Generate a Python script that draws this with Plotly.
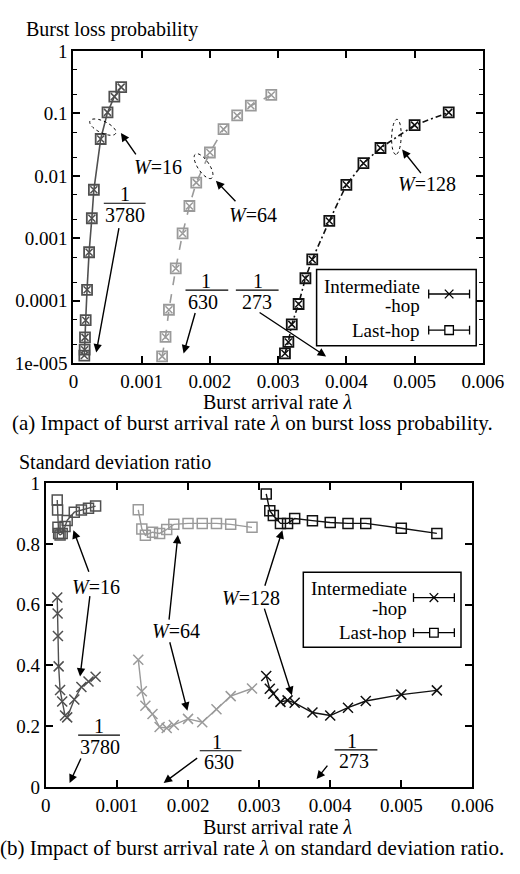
import math
import plotly.graph_objects as go

FIG_W = 520
FIG_H = 874
FONT = "Liberation Serif"

# ---- data -------------------------------------------------------------
# burst arrival rate (lambda) for each wavelength count W
lam_w16 = [0.00016, 0.000165, 0.00017, 0.00018, 0.0002, 0.00023, 0.00027, 0.0003, 0.0004, 0.0005, 0.0006, 0.0007]
lam_w64 = [0.0013, 0.00135, 0.0014, 0.0015, 0.0016, 0.0017, 0.0018, 0.002, 0.0022, 0.0024, 0.0026, 0.0029]
lam_w128 = [0.0031, 0.00315, 0.0032, 0.0033, 0.0034, 0.0035, 0.00375, 0.004, 0.00425, 0.0045, 0.005, 0.0055]

# burst loss probability (intermediate-hop and last-hop coincide)
loss_w16 = [1.33e-5, 1.65e-5, 2.6e-5, 4.9e-5, 1.5e-4, 6.0e-4, 2.1e-3, 6.0e-3, 0.039, 0.104, 0.186, 0.264]
loss_w64 = [1.29e-5, 2.64e-5, 7.2e-5, 3.3e-4, 1.2e-3, 3.3e-3, 7.8e-3, 0.0237, 0.056, 0.093, 0.133, 0.198]
loss_w128 = [1.44e-5, 2.2e-5, 4.2e-5, 8.9e-5, 2.3e-4, 4.6e-4, 1.9e-3, 7.2e-3, 0.016, 0.028, 0.065, 0.104]

# standard deviation ratio
sd_inter_w16 = [0.624, 0.571, 0.497, 0.397, 0.319, 0.281, 0.235, 0.229, 0.288, 0.329, 0.347, 0.363]
sd_last_w16 = [0.945, 0.912, 0.855, 0.835, 0.83, 0.835, 0.858, 0.878, 0.905, 0.912, 0.918, 0.925]
sd_inter_w64 = [0.419, 0.315, 0.267, 0.24, 0.197, 0.194, 0.204, 0.224, 0.213, 0.256, 0.299, 0.324]
sd_last_w64 = [0.913, 0.85, 0.829, 0.839, 0.835, 0.848, 0.865, 0.868, 0.868, 0.868, 0.865, 0.855]
sd_inter_w128 = [0.365, 0.323, 0.307, 0.28, 0.285, 0.277, 0.245, 0.235, 0.261, 0.283, 0.304, 0.318]
sd_last_w128 = [0.965, 0.91, 0.894, 0.868, 0.868, 0.884, 0.877, 0.871, 0.868, 0.868, 0.852, 0.835]

x_ticks = [0, 0.001, 0.002, 0.003, 0.004, 0.005, 0.006]
x_ticktext = ["0", "0.001", "0.002", "0.003", "0.004", "0.005", "0.006"]
loss_ticks = [1e-5, 1e-4, 1e-3, 1e-2, 1e-1, 1]
loss_ticktext = ["1e-005", "0.0001", "0.001", "0.01", "0.1", "1"]
sd_ticks = [0, 0.2, 0.4, 0.6, 0.8, 1]
sd_ticktext = ["0", "0.2", "0.4", "0.6", "0.8", "1"]

C16 = "#505050"
C64 = "#9a9a9a"
C128 = "#111111"


def px(x):
    return x / FIG_W


def py(y):
    return 1 - y / FIG_H


fig = go.Figure()

# ---- (a) burst loss probability ----------------------------------------
series_a = [
    (lam_w16, loss_w16, C16, "solid"),
    (lam_w64, loss_w64, C64, "dash"),
    (lam_w128, loss_w128, C128, "6px,3px,2px,3px"),
]
for lam, loss, col, dash in series_a:
    fig.add_trace(go.Scatter(
        x=lam, y=loss, mode="lines+markers", xaxis="x", yaxis="y",
        line=dict(color=col, width=1.6, dash=dash),
        marker=dict(symbol="square-open", size=10, color=col, line=dict(width=1.8, color=col)),
        showlegend=False, hoverinfo="skip"))
    fig.add_trace(go.Scatter(
        x=lam, y=loss, mode="markers", xaxis="x", yaxis="y",
        marker=dict(symbol="x-thin-open", size=7, color=col, line=dict(width=1.5, color=col)),
        showlegend=False, hoverinfo="skip"))

# ---- (b) standard deviation ratio ---------------------------------------
series_b = [
    (lam_w16, sd_inter_w16, sd_last_w16, C16),
    (lam_w64, sd_inter_w64, sd_last_w64, C64),
    (lam_w128, sd_inter_w128, sd_last_w128, C128),
]
for lam, inter, last, col in series_b:
    fig.add_trace(go.Scatter(
        x=lam, y=last, mode="lines+markers", xaxis="x2", yaxis="y2",
        line=dict(color=col, width=1.4),
        marker=dict(symbol="square-open", size=10, color=col, line=dict(width=1.5, color=col)),
        showlegend=False, hoverinfo="skip"))
    fig.add_trace(go.Scatter(
        x=lam, y=inter, mode="lines+markers", xaxis="x2", yaxis="y2",
        line=dict(color=col, width=1.4),
        marker=dict(symbol="x-thin-open", size=10, color=col, line=dict(width=1.5, color=col)),
        showlegend=False, hoverinfo="skip"))

axis_common = dict(
    showgrid=False, zeroline=False, showline=True, linecolor="black", linewidth=2,
    mirror="allticks", ticks="inside", ticklen=7, tickwidth=1.5, tickcolor="black",
    tickfont=dict(family=FONT, size=19, color="black"),
)

fig.update_layout(
    width=FIG_W, height=FIG_H,
    margin=dict(l=0, r=0, t=0, b=0),
    paper_bgcolor="white", plot_bgcolor="white",
    font=dict(family=FONT, size=20, color="black"),
    xaxis=dict(domain=[px(72), px(503)], anchor="y", range=[0, 0.006],
               tickvals=x_ticks, ticktext=x_ticktext, **axis_common),
    yaxis=dict(domain=[py(362), py(42)], anchor="x", type="log", range=[-5, 0],
               tickvals=loss_ticks, ticktext=loss_ticktext,
               minor=dict(tickvals=[m * 10 ** e for e in range(-5, 0) for m in (2, 5)],
                          ticks="inside", ticklen=4, tickwidth=1, tickcolor="black"),
               **axis_common),
    xaxis2=dict(domain=[px(43), px(492)], anchor="y2", range=[0, 0.006],
                tickvals=x_ticks, ticktext=x_ticktext, **axis_common),
    yaxis2=dict(domain=[py(796), py(485)], anchor="x2", range=[0, 1],
                tickvals=sd_ticks, ticktext=sd_ticktext, **axis_common),
)

annotations = []
shapes = []


def text(x, y, s, size=20, xanchor="center"):
    annotations.append(dict(x=px(x), y=py(y), xref="paper", yref="paper", text=s,
                            showarrow=False, xanchor=xanchor, yanchor="middle",
                            font=dict(family=FONT, size=size, color="black")))


def arrow(hx, hy, tx, ty):
    annotations.append(dict(x=px(hx), y=py(hy), xref="paper", yref="paper", text="",
                            showarrow=True, ax=tx - hx, ay=ty - hy, axref="pixel", ayref="pixel",
                            arrowhead=2, arrowsize=1.2, arrowwidth=1.4, arrowcolor="black",
                            standoff=0, startstandoff=0))


def hline(x0, x1, y, width=1.2):
    shapes.append(dict(type="line", xref="paper", yref="paper", x0=px(x0), x1=px(x1),
                       y0=py(y), y1=py(y), line=dict(color="black", width=width)))


def fraction(cx, ybar, x0, x1, denom, num_cx=None):
    text(num_cx if num_cx is not None else cx, ybar - 9, "1")
    hline(x0, x1, ybar)
    text(cx, ybar + 12, denom)


def ellipse(cx, cy, a, b, theta_deg, n=48):
    th = math.radians(theta_deg)
    pts = []
    for i in range(n):
        t = 2 * math.pi * i / n
        ex = cx + a * math.cos(t) * math.cos(th) - b * math.sin(t) * math.sin(th)
        ey = cy + a * math.cos(t) * math.sin(th) + b * math.sin(t) * math.cos(th)
        pts.append(f"{px(ex):.5f},{py(ey):.5f}")
    path = "M " + " L ".join(pts) + " Z"
    shapes.append(dict(type="path", xref="paper", yref="paper", path=path,
                       line=dict(color="black", width=1, dash="dot")))


def legend(x0, x1, y0, y1, text_right, sym_x0, sym_x1, y_int1, y_int2, y_sym1, y_last):
    shapes.append(dict(type="rect", xref="paper", yref="paper", x0=px(x0), x1=px(x1),
                       y0=py(y0), y1=py(y1), line=dict(color="black", width=1.5),
                       fillcolor="white", layer="above"))
    text(text_right, y_int1, "Intermediate", size=19, xanchor="right")
    text(text_right, y_int2, "-hop", size=19, xanchor="right")
    text(text_right, y_last, "Last-hop", size=19, xanchor="right")
    mid = (sym_x0 + sym_x1) / 2
    for ys in (y_sym1, y_last):
        hline(sym_x0, sym_x1, ys, width=1.3)
        for xe in (sym_x0, sym_x1):
            shapes.append(dict(type="line", xref="paper", yref="paper", x0=px(xe), x1=px(xe),
                               y0=py(ys - 4.5), y1=py(ys + 4.5), line=dict(color="black", width=1.3)))
    # cross glyph
    for d in (1, -1):
        shapes.append(dict(type="line", xref="paper", yref="paper",
                           x0=px(mid - 4.5), x1=px(mid + 4.5),
                           y0=py(y_sym1 - 4.5 * d), y1=py(y_sym1 + 4.5 * d),
                           line=dict(color="black", width=1.3)))
    # square glyph
    shapes.append(dict(type="rect", xref="paper", yref="paper",
                       x0=px(mid - 4.5), x1=px(mid + 4.5), y0=py(y_last + 4.5), y1=py(y_last - 4.5),
                       line=dict(color="black", width=1.3), fillcolor="white"))


# ---- panel (a) decorations ----
text(20, 20, "Burst loss probability", xanchor="left")
text(287, 402, "Burst arrival rate <i>λ</i>")
text(260, 423, "(a) Impact of burst arrival rate <i>λ</i> on burst loss probability.", size=21)

ellipse(103, 120, 15, 6, 25)
text(161, 161, "<i>W</i>=16")
arrow(122, 126, 138, 149)
fraction(126, 198, 104, 148, "3780")
arrow(96, 351, 119, 225)

ellipse(209, 160, 15, 6, 55)
text(261, 210, "<i>W</i>=64")
arrow(222, 175, 243, 197)
fraction(208, 287, 190, 235, "630", num_cx=212)
arrow(188, 352, 200, 310)
fraction(265, 287, 243, 288, "273", num_cx=266)
arrow(338, 355, 270, 310)

ellipse(412, 130, 18, 5, 92)
text(444, 178, "<i>W</i>=128")
arrow(418, 143, 438, 168)

legend(328, 496, 266, 344, 439, 446, 489, 283, 303, 291, 328)

# ---- panel (b) decorations ----
text(13, 463, "Standard deviation ratio", xanchor="left")
text(287, 837, "Burst arrival rate <i>λ</i>")
text(260, 859, "(b) Impact of burst arrival rate <i>λ</i> on standard deviation ratio.", size=21)

text(96, 591, "<i>W</i>=16")
arrow(72, 533, 88, 576)
arrow(79, 683, 89, 601)
text(180, 636, "<i>W</i>=64")
arrow(182, 538, 173, 624)
arrow(192, 718, 174, 648)
text(259, 602, "<i>W</i>=128")
arrow(292, 533, 274, 590)
arrow(302, 702, 274, 614)

fraction(100, 743, 77, 121, "3780", num_cx=99)
arrow(68, 792, 80, 766)
fraction(225, 759, 205, 249, "630", num_cx=223)
arrow(167, 792, 202, 766)
fraction(367, 758, 347, 392, "273", num_cx=365)
arrow(328, 788, 340, 773)

legend(314, 480, 576, 653, 425, 430, 473, 593, 613, 602, 638)

fig.update_layout(annotations=annotations, shapes=shapes)
fig.write_html("out.html")
